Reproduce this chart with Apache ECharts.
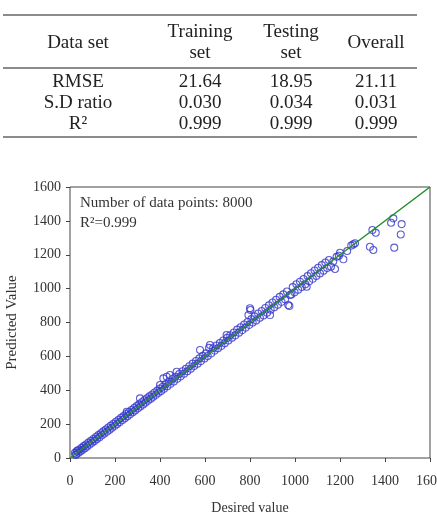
<!DOCTYPE html>
<html>
<head>
<meta charset="utf-8">
<script src="https://cdn.jsdelivr.net/npm/echarts@6/dist/echarts.min.js"></script>
<style>
  html, body { margin: 0; padding: 0; background: #fff; }
  #chart { width: 437px; height: 519px; }
</style>
</head>
<body>
<div id="chart"></div>
<script>
// table values
var tableHeaders = [['Data set'], ['Training', 'set'], ['Testing', 'set'], ['Overall']];
var rowLabels = ['RMSE', 'S.D ratio', 'R\u00b2'];
var trainingSet = ['21.64', '0.030', '0.999'];
var testingSet = ['18.95', '0.034', '0.999'];
var overallSet = ['21.11', '0.031', '0.999'];

// axis ticks
var axisTicks = [0, 200, 400, 600, 800, 1000, 1200, 1400, 1600];

// scatter points [desired, predicted]
var lowPoints = [
    [22, 30], [25, 18], [28, 22], [30, 40], [33, 44], [38, 31], [42, 50], [47, 40], [52, 60], [56, 49],
    [61, 70], [66, 58], [71, 80], [76, 68], [82, 91], [87, 79], [93, 102], [98, 90], [104, 112],
    [109, 101], [115, 124], [120, 112], [126, 135], [131, 122], [137, 146], [142, 134], [148, 157],
    [153, 145], [159, 168], [165, 156], [170, 180], [176, 167], [182, 191], [187, 179], [193, 202],
    [199, 190], [204, 214], [210, 201], [216, 226], [221, 212], [227, 237], [233, 224], [238, 248],
    [244, 235], [250, 260], [252, 273], [256, 247], [262, 272], [267, 258], [273, 283], [279, 270],
    [285, 295], [290, 281], [296, 306], [302, 293], [307, 317], [311, 352], [313, 304], [319, 329],
    [325, 316], [330, 341], [336, 327], [342, 352], [347, 339], [353, 364], [359, 350], [365, 375],
    [370, 362], [376, 387], [382, 373], [388, 398], [393, 385], [399, 410], [400, 431], [405, 396]
];
var midPoints = [
    [412, 421], [415, 470], [418, 409], [425, 436], [430, 480], [433, 424], [440, 450], [444, 490],
    [447, 438], [455, 466], [462, 452], [468, 480], [474, 509], [477, 468], [485, 496], [492, 482],
    [500, 512], [507, 498], [515, 527], [522, 512], [530, 542], [537, 527], [545, 557], [552, 543],
    [560, 573], [567, 557], [575, 588], [578, 638], [582, 572], [590, 603], [598, 588], [605, 618],
    [612, 602], [618, 650], [622, 667], [628, 618], [636, 648], [643, 634], [651, 664], [658, 648],
    [666, 679], [673, 662], [681, 694], [688, 678], [696, 726], [698, 709], [704, 694], [712, 725],
    [720, 710], [728, 741], [735, 724], [743, 758], [751, 740], [758, 772], [766, 755], [774, 788],
    [781, 770], [789, 803], [793, 844], [797, 786], [800, 884], [802, 874], [806, 820], [812, 800]
];
var upperPoints = [
    [820, 836], [828, 812], [836, 853], [844, 828], [852, 868], [860, 842], [868, 886], [876, 858],
    [884, 901], [889, 844], [892, 876], [900, 918], [908, 890], [916, 934], [924, 905], [932, 951],
    [940, 922], [948, 966], [956, 937], [964, 983], [970, 903], [975, 897], [978, 962], [984, 966],
    [990, 1009], [998, 978], [1006, 1026], [1014, 994], [1022, 1041], [1030, 1010], [1038, 1057],
    [1046, 1026], [1052, 1011], [1056, 1074], [1063, 1043], [1071, 1091], [1079, 1058], [1087, 1107],
    [1095, 1075], [1103, 1123], [1111, 1090], [1119, 1139], [1127, 1106], [1135, 1154], [1143, 1122],
    [1151, 1169], [1160, 1129], [1170, 1160], [1178, 1116], [1185, 1188], [1195, 1194], [1200, 1212],
    [1215, 1173], [1232, 1222], [1250, 1254], [1259, 1261], [1267, 1268]
];
var highPoints = [
    [1333, 1247], [1344, 1346], [1348, 1228], [1359, 1330], [1427, 1389], [1437, 1415],
    [1441, 1242], [1470, 1320], [1474, 1381]
];
var fitLine = [[0, 0], [1600, 1600]];

var serif = "'Liberation Serif', 'Times New Roman', serif";
var allPoints = lowPoints.concat(midPoints, upperPoints, highPoints);

var chartDom = document.getElementById('chart');
var myChart = echarts.init(chartDom, null, { renderer: 'canvas' });

// table drawn as graphic text
var colX = [78, 200, 291, 376];
var rowY = [82, 103, 124];
var tableGraphics = [];
[15, 68, 137].forEach(function (y) {
    tableGraphics.push({
        type: 'line',
        shape: { x1: 3, y1: y, x2: 417, y2: y },
        style: { stroke: '#666', lineWidth: 1.3 }
    });
});
tableHeaders.forEach(function (lines, i) {
    var ys = lines.length === 1 ? [43] : [32, 53];
    lines.forEach(function (t, j) {
        tableGraphics.push({
            type: 'text', x: colX[i], y: ys[j],
            style: { text: t, font: '19px ' + serif, fill: '#222', textAlign: 'center', textVerticalAlign: 'middle' }
        });
    });
});
rowLabels.forEach(function (label, r) {
    var cells = [label, trainingSet[r], testingSet[r], overallSet[r]];
    cells.forEach(function (t, c) {
        tableGraphics.push({
            type: 'text', x: colX[c], y: rowY[r],
            style: { text: t, font: '19px ' + serif, fill: '#222', textAlign: 'center', textVerticalAlign: 'middle' }
        });
    });
});
tableGraphics.push({
    type: 'text', x: 80, y: 203,
    style: { text: 'Number of data points: 8000', font: '15px ' + serif, fill: '#333', textVerticalAlign: 'middle' }
});
tableGraphics.push({
    type: 'text', x: 80, y: 223,
    style: { text: 'R\u00b2=0.999', font: '15px ' + serif, fill: '#333', textVerticalAlign: 'middle' }
});

function plainNumber(v) {
    return String(v);
}

var axisBase = {
    type: 'value',
    min: axisTicks[0],
    max: axisTicks[axisTicks.length - 1],
    interval: axisTicks[1] - axisTicks[0],
    splitLine: { show: false },
    axisLine: { show: false }
};

var option = {
    backgroundColor: '#fff',
    animation: false,
    grid: {
        left: 70, right: 7, top: 187, bottom: 61,
        containLabel: false,
        outerBoundsMode: 'none',
        show: true,
        borderColor: '#444',
        borderWidth: 1
    },
    graphic: tableGraphics,
    xAxis: [
        Object.assign({}, axisBase, {
            position: 'bottom',
            name: 'Desired value',
            nameLocation: 'middle',
            nameGap: 43,
            nameTextStyle: { fontFamily: serif, fontSize: 14, color: '#333' },
            axisTick: { show: true, inside: false, length: 4, lineStyle: { color: '#444' } },
            axisLabel: { fontFamily: serif, fontSize: 14, color: '#333', margin: 16, formatter: plainNumber }
        }),
        Object.assign({}, axisBase, {
            position: 'top',
            axisTick: { show: true, inside: true, length: 3, lineStyle: { color: '#444' } },
            axisLabel: { show: false }
        })
    ],
    yAxis: [
        Object.assign({}, axisBase, {
            position: 'left',
            name: 'Predicted Value',
            nameLocation: 'middle',
            nameGap: 50,
            nameTextStyle: { fontFamily: serif, fontSize: 15, color: '#333' },
            axisTick: { show: true, inside: false, length: 4, lineStyle: { color: '#444' } },
            axisLabel: { fontFamily: serif, fontSize: 14, color: '#333', margin: 9, formatter: plainNumber }
        }),
        Object.assign({}, axisBase, {
            position: 'right',
            axisTick: { show: true, inside: true, length: 3, lineStyle: { color: '#444' } },
            axisLabel: { show: false }
        })
    ],
    series: [
        {
            type: 'scatter',
            xAxisIndex: 0,
            yAxisIndex: 0,
            symbol: 'circle',
            symbolSize: 7,
            itemStyle: { color: 'rgba(0,0,0,0)', borderColor: '#3636cc', borderWidth: 1.1 },
            data: allPoints,
            z: 2
        },
        {
            type: 'line',
            xAxisIndex: 0,
            yAxisIndex: 0,
            data: fitLine,
            showSymbol: false,
            lineStyle: { color: '#1f8f2a', width: 1.5 },
            z: 3
        }
    ]
};

option && myChart.setOption(option);
window.addEventListener('resize', myChart.resize);
</script>
</body>
</html>
